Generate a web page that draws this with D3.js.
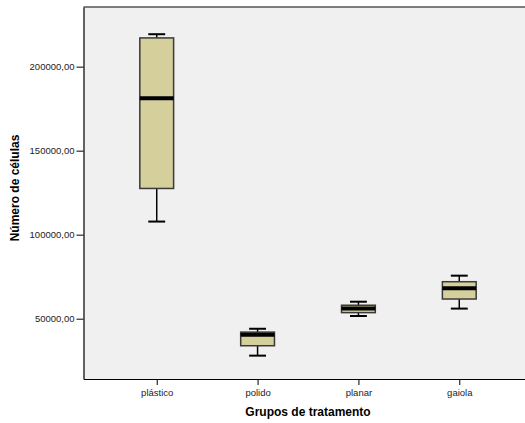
<!DOCTYPE html>
<html>
<head>
<meta charset="utf-8">
<title>Número de células por grupo</title>
<script src="https://d3js.org/d3.v7.min.js"></script>
<style>
  body { margin: 0; background: #fff; }
  svg { display: block; font-family: "Liberation Sans", Arial, sans-serif; }
</style>
</head>
<body>
<svg id="chart" width="525" height="423"></svg>
<script>
// values
const groups = ["plástico", "polido", "planar", "gaiola"];
const whiskerLow = [107800, 28000, 51600, 56000];
const q1 = [127500, 33900, 53600, 61700];
const medians = [181200, 40500, 56000, 68100];
const q3 = [217100, 42000, 58000, 72000];
const whiskerHigh = [219300, 44000, 60100, 75600];
const yTicks = [50000, 100000, 150000, 200000];

const boxes = groups.map((g, i) => ({
  group: g,
  lo: whiskerLow[i], q1: q1[i], med: medians[i], q3: q3[i], hi: whiskerHigh[i]
}));

const margin = {top: 7, left: 83.5, right: -7.5, bottom: 44};
const W = 525, H = 423;
const width = W - margin.left - margin.right;
const height = H - margin.top - margin.bottom;

const svg = d3.select("#chart");
const g = svg.append("g")
  .attr("transform", `translate(${margin.left},${margin.top})`);

const x = d3.scalePoint()
  .domain(groups)
  .range([0, width])
  .padding(0.726);

const y = d3.scaleLinear()
  .domain([14100, 235500])
  .range([height, 0]);

// plot background
g.append("rect")
  .attr("width", width)
  .attr("height", height)
  .attr("fill", "#f0f0f0");

// top frame line
g.append("line")
  .attr("x1", 0).attr("x2", width)
  .attr("y1", 0).attr("y2", 0)
  .attr("stroke", "#555").attr("stroke-width", 1.5);

const fmt = v => v.toFixed(2).replace(".", ",");

const yAxis = d3.axisLeft(y)
  .tickValues(yTicks)
  .tickFormat(fmt)
  .tickSizeInner(7)
  .tickSizeOuter(0)
  .tickPadding(2);

const xAxis = d3.axisBottom(x)
  .tickSizeInner(6)
  .tickSizeOuter(0)
  .tickPadding(4);

const ya = g.append("g").call(yAxis);
ya.select(".domain").attr("stroke", "#000").attr("stroke-width", 1.2);
ya.selectAll(".tick line").attr("stroke", "#000");
ya.selectAll("text").attr("font-size", 9.5).attr("fill", "#222");

const xa = g.append("g")
  .attr("transform", `translate(0,${height})`)
  .call(xAxis);
xa.select(".domain").attr("stroke", "#000").attr("stroke-width", 1.2);
xa.selectAll(".tick line").attr("stroke", "#000");
xa.selectAll("text").attr("font-size", 9.5).attr("fill", "#222");

// boxes
const boxW = x.step() * 0.335;
const capW = boxW * 0.5;

const bg = g.selectAll(".box")
  .data(boxes)
  .join("g")
  .attr("class", "box")
  .attr("transform", d => `translate(${x(d.group)},0)`);

bg.append("line")
  .attr("y1", d => y(d.lo)).attr("y2", d => y(d.q1))
  .attr("stroke", "#000").attr("stroke-width", 1.5);
bg.append("line")
  .attr("y1", d => y(d.q3)).attr("y2", d => y(d.hi))
  .attr("stroke", "#000").attr("stroke-width", 1.5);
bg.append("line")
  .attr("x1", -capW / 2).attr("x2", capW / 2)
  .attr("y1", d => y(d.lo)).attr("y2", d => y(d.lo))
  .attr("stroke", "#000").attr("stroke-width", 2);
bg.append("line")
  .attr("x1", -capW / 2).attr("x2", capW / 2)
  .attr("y1", d => y(d.hi)).attr("y2", d => y(d.hi))
  .attr("stroke", "#000").attr("stroke-width", 2);

bg.append("rect")
  .attr("x", -boxW / 2)
  .attr("width", boxW)
  .attr("y", d => y(d.q3))
  .attr("height", d => y(d.q1) - y(d.q3))
  .attr("fill", "#d4cf9b")
  .attr("stroke", "#3a3a3a")
  .attr("stroke-width", 1.5);

bg.append("line")
  .attr("x1", -boxW / 2).attr("x2", boxW / 2)
  .attr("y1", d => y(d.med)).attr("y2", d => y(d.med))
  .attr("stroke", "#000").attr("stroke-width", 4);

// axis titles
svg.append("text")
  .attr("x", margin.left + width / 2)
  .attr("y", 416)
  .attr("text-anchor", "middle")
  .attr("font-size", 12)
  .attr("font-weight", "bold")
  .text("Grupos de tratamento");

svg.append("text")
  .attr("transform", `translate(19,${margin.top + height / 2 - 5}) rotate(-90)`)
  .attr("text-anchor", "middle")
  .attr("font-size", 12)
  .attr("font-weight", "bold")
  .text("Número de células");
</script>
</body>
</html>
